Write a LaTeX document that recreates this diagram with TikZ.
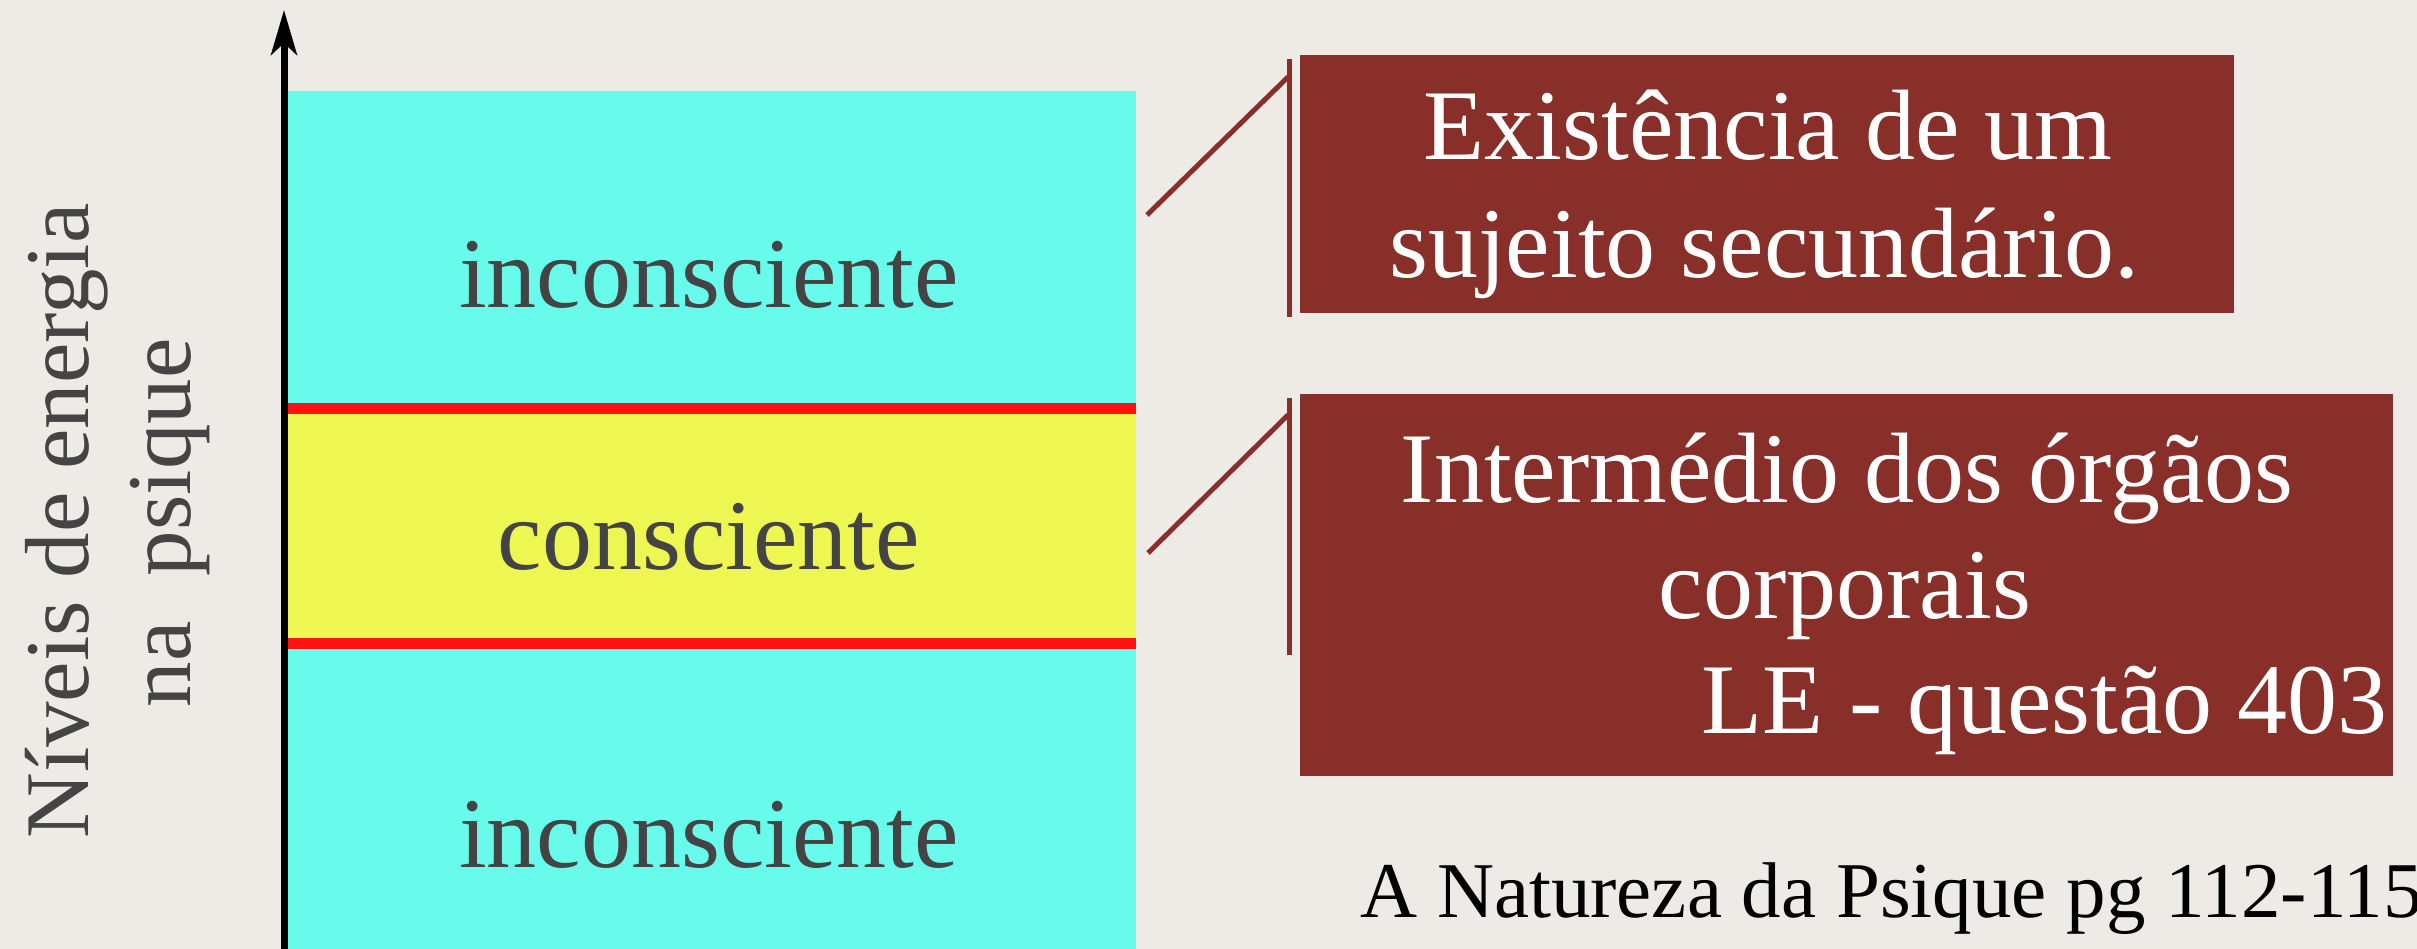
\documentclass[tikz,border=0pt]{standalone}
\usepackage{fontspec}
\setmainfont{Liberation Serif}
\usetikzlibrary{arrows.meta}
\definecolor{bg}{HTML}{EEEAE5}
\definecolor{cyanband}{HTML}{68FAEA}
\definecolor{yellowband}{HTML}{EEF752}
\definecolor{redline}{HTML}{FF1212}
\definecolor{boxred}{HTML}{882F2A}
\definecolor{labelgray}{HTML}{444444}
\begin{document}
\begin{tikzpicture}[x=1pt,y=-1pt,
  level/.style={font=\fontsize{100}{120}\selectfont, text=labelgray, anchor=base, inner sep=0pt},
  sidelabel/.style={font=\fontsize{91}{100}\selectfont, text=labelgray, anchor=base, inner sep=0pt, rotate=90},
  boxtext/.style={font=\fontsize{100}{120}\selectfont, text=white, anchor=base, inner sep=0pt},
  notebox/.style={fill=boxred, draw=none, anchor=north west, inner sep=0pt},
  callout/.style={draw=boxred, line width=5pt},
  axisline/.style={line width=7pt, black, -{Stealth[length=45pt,width=26pt,inset=12pt]}},
  ref/.style={font=\fontsize{79}{90}\selectfont, text=black, anchor=base west, inner sep=0pt}]
\useasboundingbox (0,0) rectangle (2417,949);
\clip (0,0) rectangle (2417,949);
\fill[bg] (0,0) rectangle (2417,949);

% bands
\fill[cyanband] (287,91) rectangle (1136,949);
\fill[yellowband] (287,413) rectangle (1136,638);
\fill[redline] (287,403) rectangle (1136,414);
\fill[redline] (287,638) rectangle (1136,649);

% axis
\coordinate (axisbot) at (284,960);
\coordinate (axistop) at (284,10);
\draw[axisline] (axisbot) -- (axistop);

% band labels
\node[level] (inc1) at (709,308) {inconsciente};
\node[level] (cons) at (709,569) {consciente};
\node[level] (inc2) at (709,867) {inconsciente};

% side label
\node[sidelabel] (side1) at (88,521) {Níveis de energia};
\node[sidelabel] (side2) at (190,523) {na~ psique};

% boxes
\node[notebox, minimum width=934pt, minimum height=258pt] (box1) at (1300,55) {};
\node[notebox, minimum width=1093pt, minimum height=382pt] (box2) at (1300,394) {};

\node[boxtext] (b1l1) at (1768,160) {Existência de um};
\node[boxtext] (b1l2) at (1764,278) {sujeito secundário.};
\node[boxtext] (b2l1) at (1847,502) {Intermédio dos órgãos};
\node[boxtext] (b2l2) at (1845,618) {corporais};
\node[boxtext, anchor=base east] (b2l3) at (2388,733) {LE - questão 403};

% callouts
\coordinate (c1a) at (1147,215);
\coordinate (c1b) at (1288,77);
\coordinate (v1t) at (1289,59);
\coordinate (v1b) at (1289,317);
\draw[callout] (c1a) -- (c1b);
\draw[callout] (v1t) -- (v1b);
\coordinate (c2a) at (1148,553);
\coordinate (c2b) at (1288,415);
\coordinate (v2t) at (1289,398);
\coordinate (v2b) at (1289,655);
\draw[callout] (c2a) -- (c2b);
\draw[callout] (v2t) -- (v2b);

% reference
\node[ref] (refnote) at (1360,917) {A Natureza da Psique pg 112-115};
\end{tikzpicture}
\end{document}
